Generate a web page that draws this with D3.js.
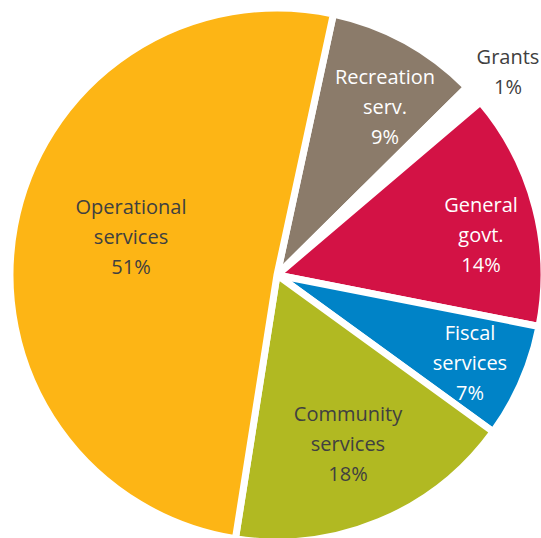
<!DOCTYPE html>
<html><head><meta charset="utf-8">
<script src="https://cdn.jsdelivr.net/npm/d3@7"></script>
<style>body{margin:0;background:#fff;}svg{display:block;}</style>
</head><body>
<svg id="c" width="541" height="538"></svg>
<script>
const categories = ["Recreation serv.", "Grants", "General govt.", "Fiscal services", "Community services", "Operational services"];
const values = [9.2, 1.2, 14.3, 6.9, 17.5, 50.9];
const pctLabels = ["9%", "1%", "14%", "7%", "18%", "51%"];
const labelLines = [["Recreation","serv."],["Grants"],["General","govt."],["Fiscal","services"],["Community","services"],["Operational","services"]];
const colors = ["#8B7B6A", "#FFFFFF", "#D31245", "#0083C7", "#B1B922", "#FDB515"];
const textColors = ["#FFFFFF", "#404040", "#FFFFFF", "#FFFFFF", "#404040", "#404040"];

// layout (not data): label block centre, relative to pie centre
const labelAnchor = [[108,-168],[231,-203],[204,-40],[193,88],[71,169],[-146,-38]];

const cx = 277, cy = 275, R = 267;
const svg = d3.select("#c");
const g = svg.append("g").attr("transform", `translate(${cx},${cy})`);
const start = 12.2 * Math.PI / 180;
const pie = d3.pie().sort(null).value(d => d).startAngle(start).endAngle(start + 2 * Math.PI);
const arcs = pie(values);
const arc = d3.arc().innerRadius(0).outerRadius(R);

g.selectAll("path").data(arcs).join("path")
  .attr("d", arc)
  .attr("fill", (d, i) => colors[i])
  .attr("stroke", "#fff")
  .attr("stroke-width", 7)
  .attr("stroke-linejoin", "miter");

const lineH = 30;
arcs.forEach((a, i) => {
  const [x, y] = labelAnchor[i];
  const lines = labelLines[i].concat([pctLabels[i]]);
  const t = g.append("text")
    .attr("text-anchor", "middle")
    .attr("font-family", "'Open Sans', 'Noto Sans', sans-serif")
    .attr("font-size", 20)
    .attr("fill", textColors[i]);
  lines.forEach((l, k) => {
    t.append("tspan").attr("x", x).attr("y", y + (k - (lines.length - 1) / 2) * lineH + 7).text(l);
  });
});
</script>
</body></html>
